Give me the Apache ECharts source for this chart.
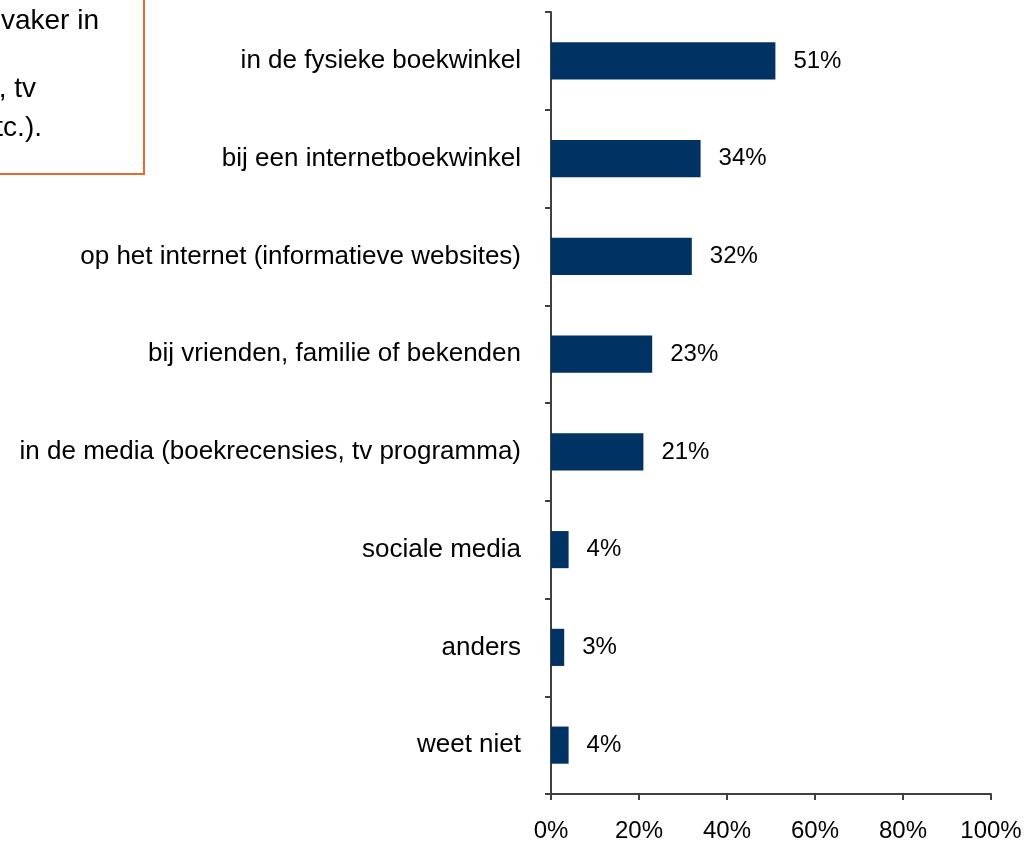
<!DOCTYPE html>
<html>
<head>
<meta charset="utf-8">
<script src="https://cdn.jsdelivr.net/npm/echarts@6/dist/echarts.min.js"></script>
<style>
  html, body { margin: 0; padding: 0; background: #fff; }
  #chart { width: 1028px; height: 851px; }
</style>
</head>
<body>
<div id="chart"></div>
<script>
// categorieen (van boven naar beneden)
const categories = [
  'in de fysieke boekwinkel',
  'bij een internetboekwinkel',
  'op het internet (informatieve websites)',
  'bij vrienden, familie of bekenden',
  'in de media (boekrecensies, tv programma)',
  'sociale media',
  'anders',
  'weet niet'
]
// percentages
const values = [51, 34, 32, 23, 21, 4, 3, 4]
const xTicks = [0, 20, 40, 60, 80, 100]

// tekstvak linksboven (afgesneden)
const boxLines = ['vaker in', '', ', tv', 'tc.).']

const chart = echarts.init(document.getElementById('chart'))
const font = 'Liberation Sans, Arial, sans-serif'

const option = {
  animation: false,
  grid: { left: 551, right: 37, top: 12, bottom: 57 },
  xAxis: {
    type: 'value',
    min: xTicks[0],
    max: xTicks[xTicks.length - 1],
    interval: 20,
    axisLine: { show: true, lineStyle: { color: '#404040', width: 2 } },
    axisTick: { show: true, length: 6, lineStyle: { color: '#404040', width: 2 } },
    splitLine: { show: false },
    axisLabel: { formatter: '{value}%', color: '#000', fontSize: 24, fontFamily: font, margin: 25 }
  },
  yAxis: {
    type: 'category',
    data: categories,
    inverse: true,
    axisLine: { show: true, lineStyle: { color: '#404040', width: 2 } },
    axisTick: { show: true, length: 6, lineStyle: { color: '#404040', width: 2 } },
    axisLabel: { color: '#000', fontSize: 26, fontFamily: font, margin: 30, padding: [6, 0, 0, 0] }
  },
  series: [{
    type: 'bar',
    data: values,
    barWidth: '38%',
    itemStyle: { color: '#003263' },
    label: {
      show: true,
      position: 'right',
      distance: 18,
      formatter: '{c}%',
      color: '#000',
      fontSize: 24,
      fontFamily: font,
      padding: [8, 0, 0, 0]
    }
  }],
  graphic: [
    {
      type: 'rect',
      shape: { x: -20, y: -20, width: 164, height: 194 },
      style: { fill: 'none', stroke: '#E46C2C', lineWidth: 2 }
    },
    ...boxLines.map(function (t, i) {
      const ends = [99, 0, 36, 42]
      const ys = [21, 54, 89, 128]
      return {
        type: 'text',
        x: ends[i],
        y: ys[i],
        style: {
          text: t,
          align: 'right',
          verticalAlign: 'middle',
          fill: '#000',
          fontSize: 28,
          fontFamily: font
        }
      }
    })
  ]
}
chart.setOption(option)
</script>
</body>
</html>
